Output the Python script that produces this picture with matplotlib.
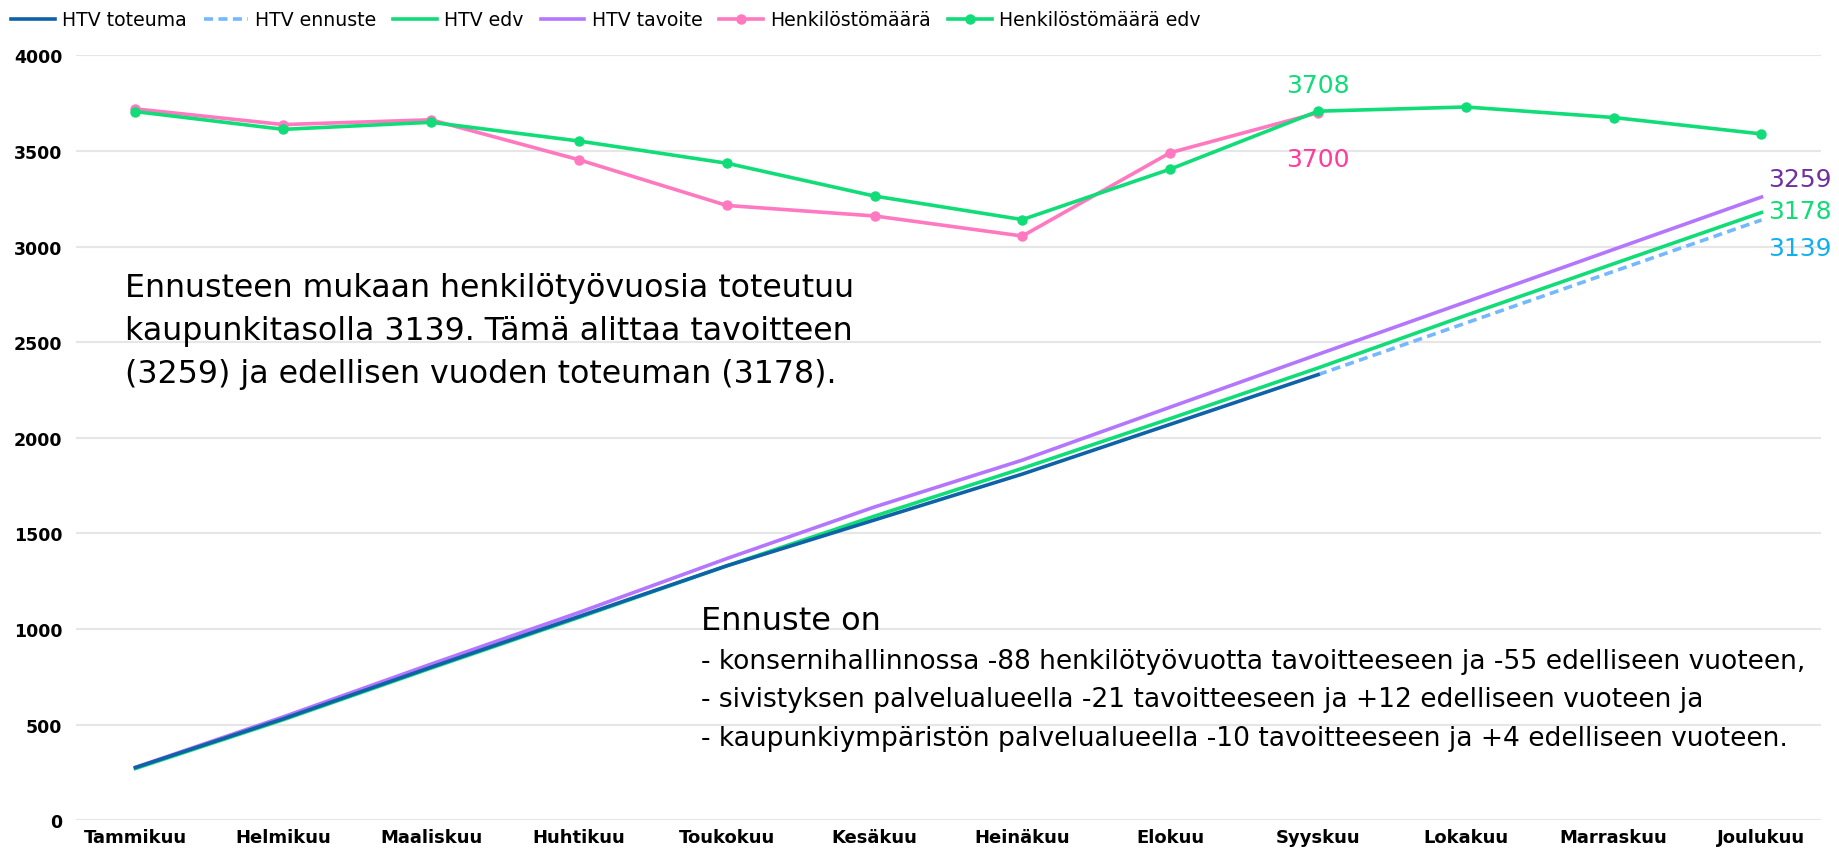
import numpy as np
import matplotlib.pyplot as plt

months = ['Tammikuu', 'Helmikuu', 'Maaliskuu', 'Huhtikuu', 'Toukokuu', 'Kesäkuu',
          'Heinäkuu', 'Elokuu', 'Syyskuu', 'Lokakuu', 'Marraskuu', 'Joulukuu']

htv_toteuma = [275, 530, 800, 1065, 1330, 1570, 1810, 2070, 2330]
htv_ennuste = [2330, 2600, 2870, 3139]
htv_edv = [270, 525, 795, 1060, 1330, 1590, 1840, 2100, 2365, 2640, 2910, 3178]
htv_tavoite = [276, 540, 816, 1086, 1368, 1638, 1883, 2160, 2436, 2710, 2985, 3259]
henk = [3720, 3638, 3663, 3454, 3215, 3160, 3055, 3491, 3700]
henk_edv = [3706, 3613, 3650, 3552, 3436, 3264, 3141, 3405, 3708, 3730, 3675, 3589]

c_tot = '#0F62A8'
c_enn = '#74B8FF'
c_edv = '#10DC78'
c_tav = '#B476FF'
c_henk = '#FF78C0'

fig = plt.figure(figsize=(18.39, 8.54), dpi=100)
ax = fig.add_axes([0.0415, 0.0385, 0.9485, 0.8955])

x = np.arange(len(months))
lw = 2.6
ax.plot(x[:len(htv_toteuma)], htv_toteuma, color=c_tot, lw=lw, label='HTV toteuma', zorder=4)
ax.plot(x[8:8 + len(htv_ennuste)], htv_ennuste, color=c_enn, lw=lw, ls=(0, (2.5, 1.5)),
        label='HTV ennuste', zorder=3)
ax.plot(x, htv_edv, color=c_edv, lw=lw, label='HTV edv', zorder=3)
ax.plot(x, htv_tavoite, color=c_tav, lw=lw, label='HTV tavoite', zorder=3)
ax.plot(x[:len(henk)], henk, color=c_henk, lw=lw, marker='o', ms=6.5,
        label='Henkilöstömäärä', zorder=4)
ax.plot(x, henk_edv, color=c_edv, lw=lw, marker='o', ms=6.5,
        label='Henkilöstömäärä edv', zorder=5)

ax.set_xlim(-0.4, 11.4)
ax.set_ylim(0, 4000)
ax.set_yticks(np.arange(0, 4001, 500))
ax.set_xticks(x)
ax.set_xticklabels(months, fontsize=13, fontweight='bold')
for t in ax.get_yticklabels():
    t.set_fontsize(12.5)
    t.set_fontweight('bold')
ax.grid(axis='y', color='#E6E6E6', lw=1.5)
ax.set_axisbelow(True)
for s in ax.spines.values():
    s.set_visible(False)
ax.tick_params(length=0)
ax.tick_params(axis='y', pad=10)
ax.tick_params(axis='x', pad=6)

# data labels
lab_fs = 18
ax.annotate('3708', (8, henk_edv[8]), xytext=(0, 19), textcoords='offset points',
            ha='center', va='center', color=c_edv, fontsize=lab_fs)
ax.annotate('3700', (8, henk[8]), xytext=(0, -33), textcoords='offset points',
            ha='center', va='center', color='#FF3C9C', fontsize=lab_fs)
ax.annotate('3259', (11, htv_tavoite[-1]), xytext=(5, 13), textcoords='offset points',
            ha='left', va='center', color='#7030A0', fontsize=lab_fs)
ax.annotate('3178', (11, htv_edv[-1]), xytext=(5, 1), textcoords='offset points',
            ha='left', va='center', color=c_edv, fontsize=lab_fs)
ax.annotate('3139', (11, htv_ennuste[-1]), xytext=(5, -20), textcoords='offset points',
            ha='left', va='center', color='#10B0F0', fontsize=lab_fs)

# text boxes
fig.text(0.068, 0.680,
         'Ennusteen mukaan henkilötyövuosia toteutuu\n'
         'kaupunkitasolla 3139. Tämä alittaa tavoitteen\n'
         '(3259) ja edellisen vuoden toteuman (3178).',
         fontsize=22.8, va='top', ha='left', linespacing=1.5)
fig.text(0.381, 0.290, 'Ennuste on', fontsize=23, va='top', ha='left')
fig.text(0.381, 0.240,
         '- konsernihallinnossa -88 henkilötyövuotta tavoitteeseen ja -55 edelliseen vuoteen,\n'
         '- sivistyksen palvelualueella -21 tavoitteeseen ja +12 edelliseen vuoteen ja\n'
         '- kaupunkiympäristön palvelualueella -10 tavoitteeseen ja +4 edelliseen vuoteen.',
         fontsize=19.1, va='top', ha='left', linespacing=1.62)

fig.legend(loc='upper left', bbox_to_anchor=(0.0, 1.0), ncol=6, frameon=False,
           fontsize=13.6, handlelength=2.3, handletextpad=0.4, columnspacing=0.9,
           borderaxespad=0.2)

fig.savefig('out.png', dpi=100)
